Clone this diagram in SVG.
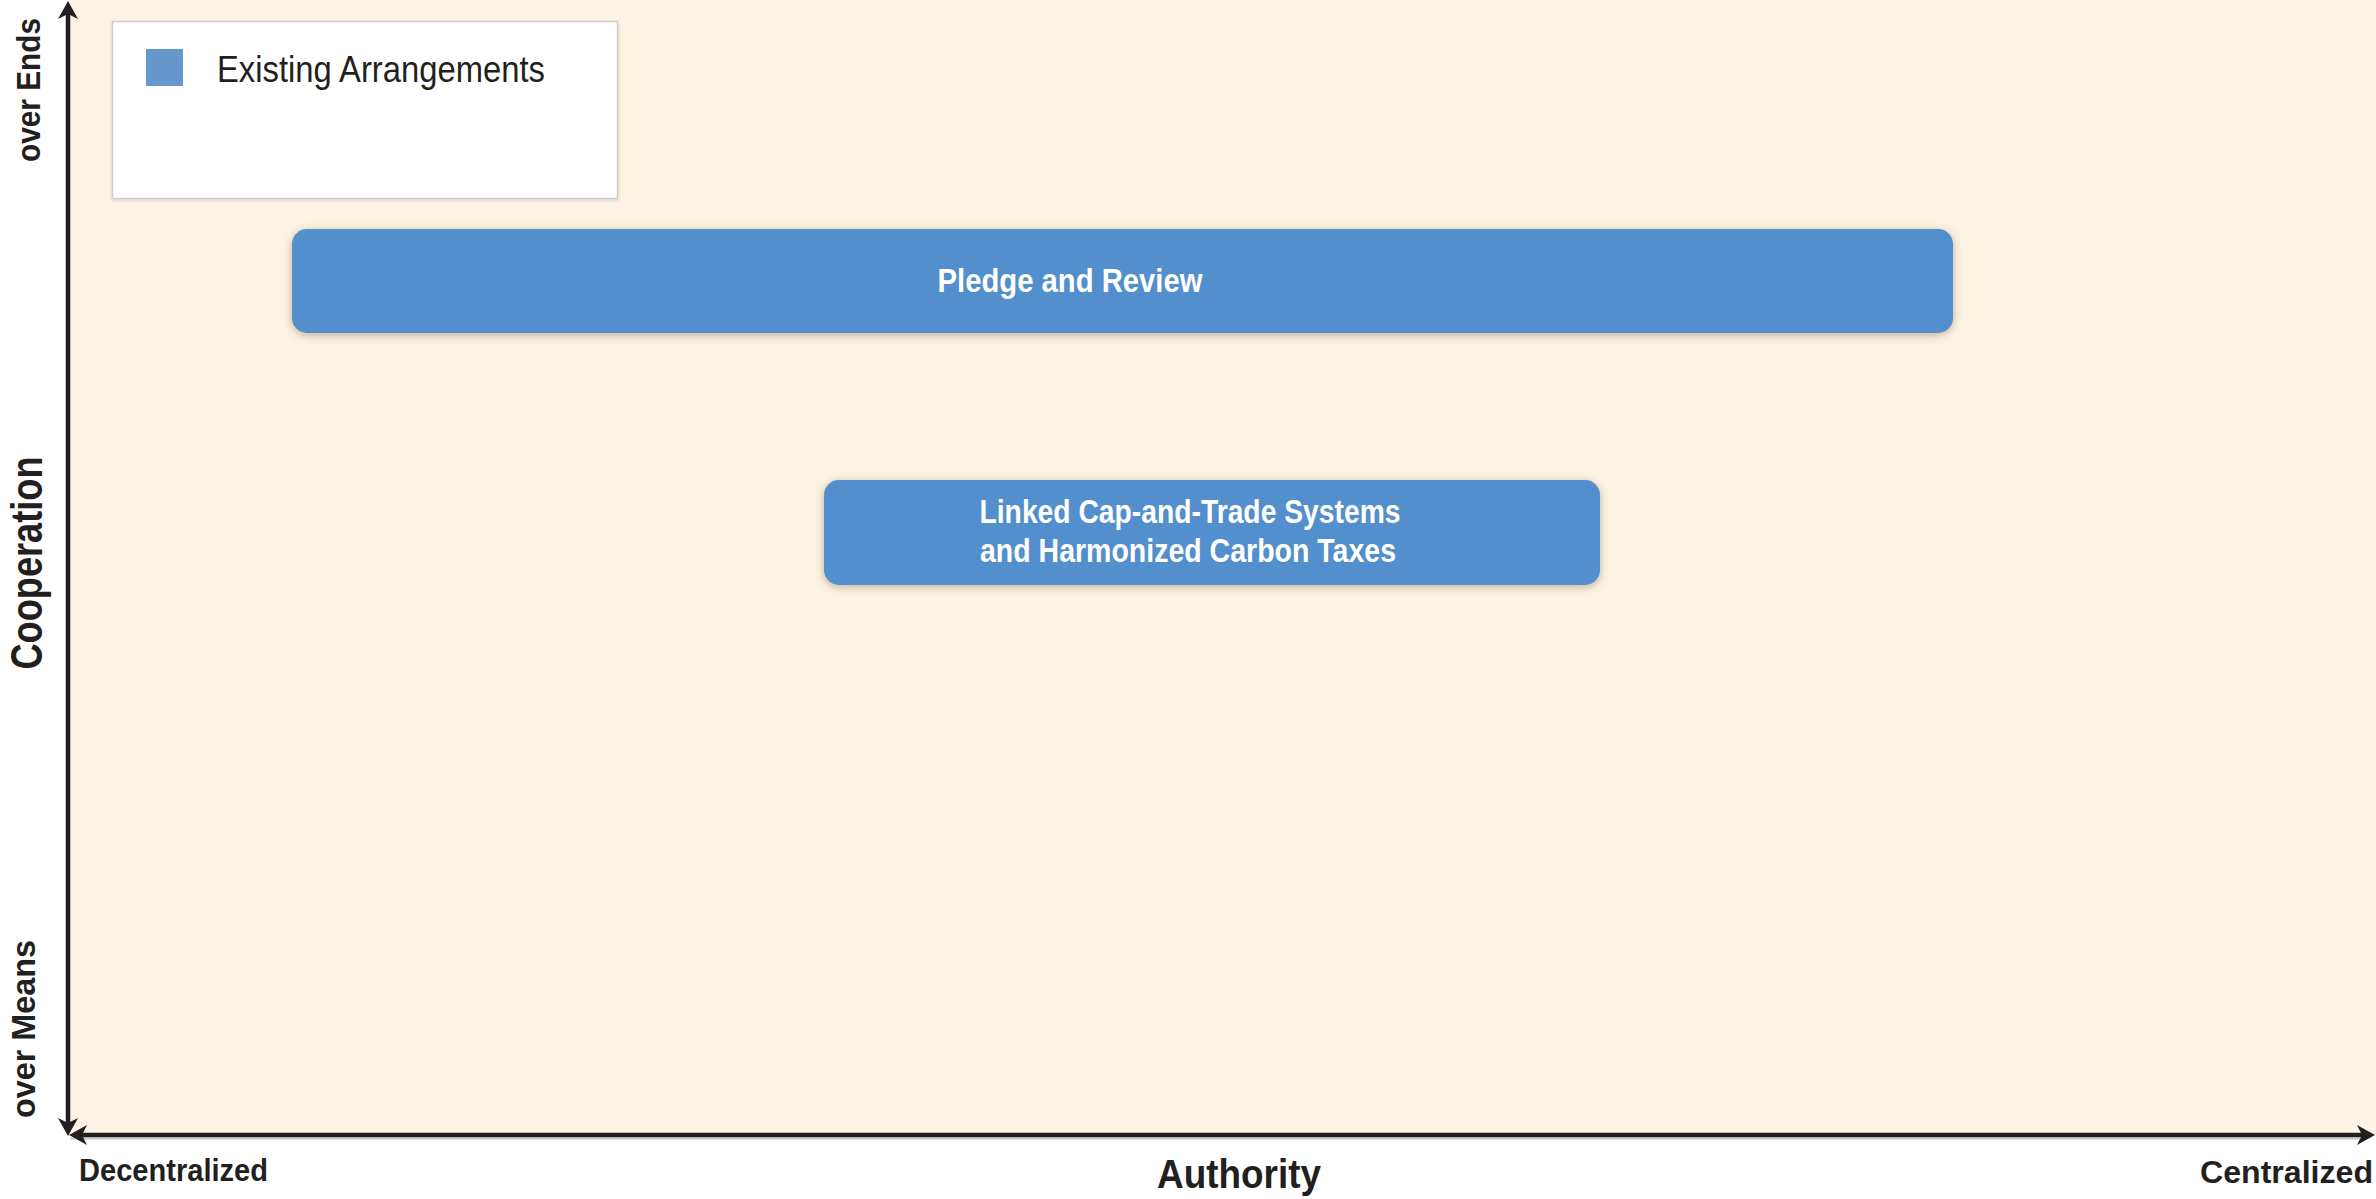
<svg xmlns="http://www.w3.org/2000/svg" width="2376" height="1199" viewBox="0 0 2376 1199">
<style>
.ax{fill:#231f20;font-family:"Liberation Sans",Arial,sans-serif;font-weight:bold;}
.lbl{fill:#ffffff;font-family:"Liberation Sans",Arial,sans-serif;font-weight:bold;font-size:33px;text-anchor:middle;}
.box{fill:#528fcc;filter:url(#sh);}
.axis{stroke:#231f20;stroke-width:4.5;fill:none;}
</style>
<defs>
<filter id="sh" x="-5%" y="-30%" width="110%" height="160%">
<feDropShadow dx="0" dy="2" stdDeviation="4" flood-color="#7a5a3a" flood-opacity="0.45"/>
</filter>
<filter id="sh2" x="-5%" y="-10%" width="110%" height="120%">
<feDropShadow dx="0" dy="1" stdDeviation="1.5" flood-color="#000" flood-opacity="0.2"/>
</filter>
<marker id="arr" markerUnits="userSpaceOnUse" viewBox="-10 -12 24 24" refX="0" refY="0" markerWidth="24" markerHeight="24" orient="auto-start-reverse">
<path d="M11,0 L-7,-10 L-2,0 L-7,10 Z" fill="#231f20"/>
</marker>
</defs>
<rect x="0" y="0" width="2376" height="1199" fill="#ffffff"/>
<rect x="68" y="0" width="2308" height="1135" fill="#fdf3e4"/>
<line x1="70" y1="1138.5" x2="2362" y2="1138.5" stroke="#c9c9c9" stroke-width="2"/>

<g id="legend">
<rect x="112.5" y="21.5" width="505" height="177" fill="#ffffff" stroke="#cfcfcf" stroke-width="1.5" filter="url(#sh2)"/>
<rect x="146" y="49" width="37" height="37" fill="#6596cc"/>
<text x="217" y="82" font-family="'Liberation Sans',Arial,sans-serif" font-size="37" fill="#231f20" textLength="328" lengthAdjust="spacingAndGlyphs">Existing Arrangements</text>
</g>

<g id="pledge">
<rect class="box" x="292" y="229" width="1661" height="104" rx="15" ry="15"/>
<text class="lbl" x="1070" y="292" font-size="34" textLength="265" lengthAdjust="spacingAndGlyphs">Pledge and Review</text>
</g>

<g id="linked">
<rect class="box" x="824" y="480" width="776" height="105" rx="15" ry="15"/>
<text class="lbl" x="1190" y="523" textLength="421" lengthAdjust="spacingAndGlyphs">Linked Cap-and-Trade Systems</text>
<text class="lbl" x="1188" y="562" textLength="416" lengthAdjust="spacingAndGlyphs">and Harmonized Carbon Taxes</text>
</g>

<g id="connectors">
<line class="axis" x1="68" y1="1125" x2="68" y2="12" marker-start="url(#arr)" marker-end="url(#arr)"/>
<line class="axis" x1="80" y1="1135" x2="2364" y2="1135" marker-start="url(#arr)" marker-end="url(#arr)"/>
</g>

<g id="axis-labels">
<text class="ax" transform="translate(40,90) rotate(-90)" font-size="33" text-anchor="middle" textLength="144" lengthAdjust="spacingAndGlyphs">over Ends</text>
<text class="ax" transform="translate(42,563) rotate(-90)" font-size="44" text-anchor="middle" textLength="213" lengthAdjust="spacingAndGlyphs">Cooperation</text>
<text class="ax" transform="translate(35,1029) rotate(-90)" font-size="33" text-anchor="middle" textLength="178" lengthAdjust="spacingAndGlyphs">over Means</text>
<text class="ax" x="79" y="1181" font-size="32" textLength="189" lengthAdjust="spacingAndGlyphs">Decentralized</text>
<text class="ax" x="1157" y="1188" font-size="41" textLength="164" lengthAdjust="spacingAndGlyphs">Authority</text>
<text class="ax" x="2200" y="1183" font-size="32" textLength="173" lengthAdjust="spacingAndGlyphs">Centralized</text>
</g>
</svg>
